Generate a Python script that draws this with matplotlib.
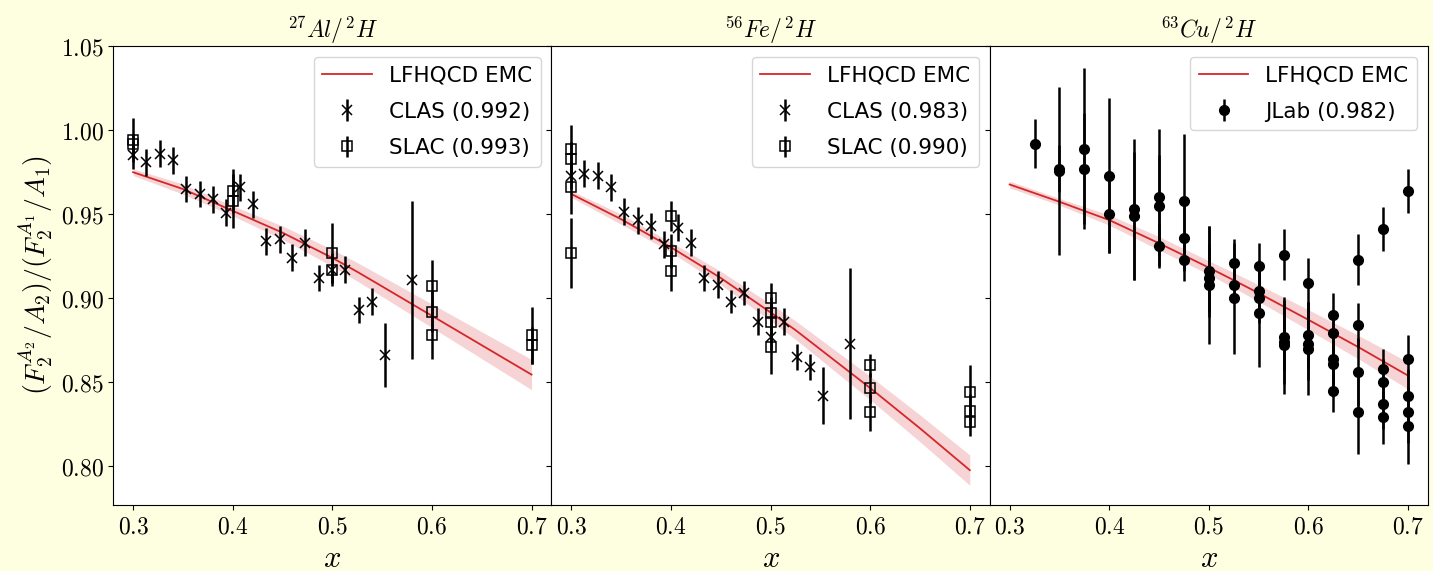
import numpy as np
import matplotlib
matplotlib.use("Agg")
import matplotlib.pyplot as plt
from matplotlib.ticker import FuncFormatter

plt.rcParams["mathtext.fontset"] = "cm"

# ---- theory curves (LFHQCD EMC) ----
x_th = [0.30, 0.35, 0.40, 0.45, 0.50, 0.525, 0.55, 0.60, 0.65, 0.70]
al_th = [0.975, 0.965, 0.952, 0.939, 0.924, 0.9157, 0.907, 0.8895, 0.872, 0.8545]
al_band = [0.002, 0.003, 0.003, 0.004, 0.005, 0.0055, 0.006, 0.007, 0.008, 0.009]
fe_th = [0.962, 0.947, 0.9303, 0.912, 0.8915, 0.881, 0.8695, 0.8465, 0.8225, 0.7976]
fe_band = [0.002, 0.003, 0.003, 0.004, 0.005, 0.0055, 0.006, 0.007, 0.008, 0.009]
cu_th = [0.9677, 0.9574, 0.9465, 0.9327, 0.9182, 0.9107, 0.903, 0.8871, 0.8709, 0.8539]
cu_band = [0.002, 0.002, 0.003, 0.004, 0.004, 0.0045, 0.005, 0.006, 0.007, 0.008]

# ---- Al data ----
al_clas_x = [0.300, 0.313, 0.327, 0.340, 0.353, 0.367, 0.380, 0.393, 0.407, 0.420,
             0.433, 0.447, 0.460, 0.473, 0.487, 0.500, 0.513, 0.527, 0.540, 0.553, 0.580]
al_clas_y = [0.985, 0.981, 0.986, 0.982, 0.965, 0.962, 0.959, 0.951, 0.966, 0.956,
             0.934, 0.935, 0.924, 0.933, 0.912, 0.917, 0.917, 0.893, 0.898, 0.866, 0.911]
al_clas_e = [0.008, 0.008, 0.008, 0.008, 0.008, 0.008, 0.008, 0.008, 0.008, 0.008,
             0.008, 0.008, 0.008, 0.008, 0.008, 0.008, 0.008, 0.008, 0.008, 0.019, 0.047]
al_slac_x = [0.3, 0.3, 0.4, 0.4, 0.5, 0.5, 0.6, 0.6, 0.6, 0.7, 0.7]
al_slac_y = [0.994, 0.992, 0.964, 0.958, 0.927, 0.917, 0.907, 0.892, 0.878, 0.878, 0.872]
al_slac_e = [0.013, 0.006, 0.013, 0.016, 0.018, 0.010, 0.016, 0.012, 0.014, 0.017, 0.011]

# ---- Fe data ----
fe_clas_x = al_clas_x
fe_clas_y = [0.973, 0.974, 0.973, 0.966, 0.9515, 0.9465, 0.943, 0.932, 0.942, 0.933,
             0.912, 0.908, 0.898, 0.903, 0.886, 0.877, 0.886, 0.865, 0.859, 0.842, 0.873]
fe_clas_e = [0.008, 0.008, 0.008, 0.008, 0.008, 0.008, 0.008, 0.008, 0.008, 0.008,
             0.008, 0.008, 0.007, 0.007, 0.008, 0.008, 0.008, 0.008, 0.008, 0.017, 0.045]
fe_slac_x = [0.3, 0.3, 0.3, 0.3, 0.4, 0.4, 0.4, 0.5, 0.5, 0.5, 0.5,
             0.6, 0.6, 0.6, 0.7, 0.7, 0.7]
fe_slac_y = [0.989, 0.983, 0.966, 0.927, 0.949, 0.928, 0.916, 0.900, 0.891, 0.886, 0.871,
             0.860, 0.8465, 0.832, 0.844, 0.833, 0.826]
fe_slac_e = [0.014, 0.010, 0.016, 0.021, 0.009, 0.010, 0.012, 0.009, 0.010, 0.012, 0.016,
             0.007, 0.009, 0.011, 0.016, 0.010, 0.008]

# ---- Cu data ----
cu_x = [0.325, 0.35, 0.35, 0.375, 0.375, 0.4, 0.4, 0.425, 0.425,
        0.45, 0.45, 0.45, 0.475, 0.475, 0.475, 0.5, 0.5, 0.5,
        0.525, 0.525, 0.525, 0.55, 0.55, 0.55, 0.55,
        0.575, 0.575, 0.575, 0.575, 0.6, 0.6, 0.6, 0.6,
        0.625, 0.625, 0.625, 0.625, 0.625, 0.65, 0.65, 0.65, 0.65,
        0.675, 0.675, 0.675, 0.675, 0.675, 0.7, 0.7, 0.7, 0.7, 0.7]
cu_y = [0.992, 0.977, 0.976, 0.989, 0.977, 0.973, 0.950, 0.953, 0.949,
        0.960, 0.955, 0.931, 0.958, 0.936, 0.923, 0.916, 0.912, 0.908,
        0.921, 0.908, 0.900, 0.919, 0.904, 0.900, 0.891,
        0.926, 0.877, 0.874, 0.872, 0.909, 0.878, 0.873, 0.870,
        0.890, 0.879, 0.864, 0.861, 0.845, 0.923, 0.884, 0.856, 0.832,
        0.941, 0.858, 0.850, 0.837, 0.829, 0.964, 0.864, 0.842, 0.832, 0.824]
cu_e = [0.0145, 0.014, 0.050, 0.048, 0.033, 0.046, 0.023, 0.042, 0.038,
        0.041, 0.030, 0.013, 0.040, 0.020, 0.0125, 0.027, 0.020, 0.035,
        0.014, 0.010, 0.033, 0.014, 0.012, 0.015, 0.032,
        0.015, 0.020, 0.025, 0.029, 0.015, 0.020, 0.022, 0.0275,
        0.013, 0.012, 0.015, 0.016, 0.013, 0.015, 0.013, 0.020, 0.025,
        0.013, 0.012, 0.014, 0.015, 0.016, 0.013, 0.014, 0.016, 0.018, 0.023]

red = "#d62728"

fig, axes = plt.subplots(1, 3, figsize=(14.33, 5.71), dpi=100, sharey=True)
fig.patch.set_facecolor("#fefee0")
fig.subplots_adjust(left=0.079, right=0.9965, top=0.919, bottom=0.116, wspace=0)


def draw_theory(ax, y, band):
    y = np.array(y)
    band = np.array(band)
    ax.fill_between(x_th, y - band, y + band, color=red, alpha=0.2, lw=0)
    ax.plot(x_th, y, color=red, lw=1.3, label="LFHQCD EMC")


ax = axes[0]
draw_theory(ax, al_th, al_band)
ax.errorbar(al_clas_x, al_clas_y, yerr=al_clas_e, fmt="x", color="k", ms=7, mew=1.1,
            elinewidth=1.8, label="CLAS (0.992)")
ax.errorbar(al_slac_x, al_slac_y, yerr=al_slac_e, fmt="s", color="k", mfc="none", ms=7,
            mew=1.1, elinewidth=1.8, label="SLAC (0.993)")
ax.set_title(r"$^{27}Al/^{2}H$", fontsize=17)
ax.set_ylabel(r"$(F_2^{A_2}/A_2)/(F_2^{A_1}/A_1)$", fontsize=20)

ax = axes[1]
draw_theory(ax, fe_th, fe_band)
ax.errorbar(fe_clas_x, fe_clas_y, yerr=fe_clas_e, fmt="x", color="k", ms=7, mew=1.1,
            elinewidth=1.8, label="CLAS (0.983)")
ax.errorbar(fe_slac_x, fe_slac_y, yerr=fe_slac_e, fmt="s", color="k", mfc="none", ms=7,
            mew=1.1, elinewidth=1.8, label="SLAC (0.990)")
ax.set_title(r"$^{56}Fe/^{2}H$", fontsize=17)

ax = axes[2]
draw_theory(ax, cu_th, cu_band)
ax.errorbar(cu_x, cu_y, yerr=cu_e, fmt="o", color="k", ms=7, elinewidth=1.8,
            label="JLab (0.982)")
ax.set_title(r"$^{63}Cu/^{2}H$", fontsize=17)

for ax in axes:
    ax.set_xlim(0.28, 0.72)
    ax.set_ylim(0.777, 1.05)
    ax.set_xticks([0.3, 0.4, 0.5, 0.6, 0.7])
    ax.set_yticks([0.80, 0.85, 0.90, 0.95, 1.00, 1.05])
    ax.xaxis.set_major_formatter(FuncFormatter(lambda v, p: f"${v:.1f}$"))
    ax.yaxis.set_major_formatter(FuncFormatter(lambda v, p: f"${v:.2f}$"))
    ax.tick_params(labelsize=17)
    ax.set_xlabel(r"$x$", fontsize=22)
    ax.legend(loc="upper right", fontsize=15.5, labelspacing=0.75, handlelength=2.3)

fig.savefig("out.png", dpi=100, facecolor=fig.get_facecolor())
